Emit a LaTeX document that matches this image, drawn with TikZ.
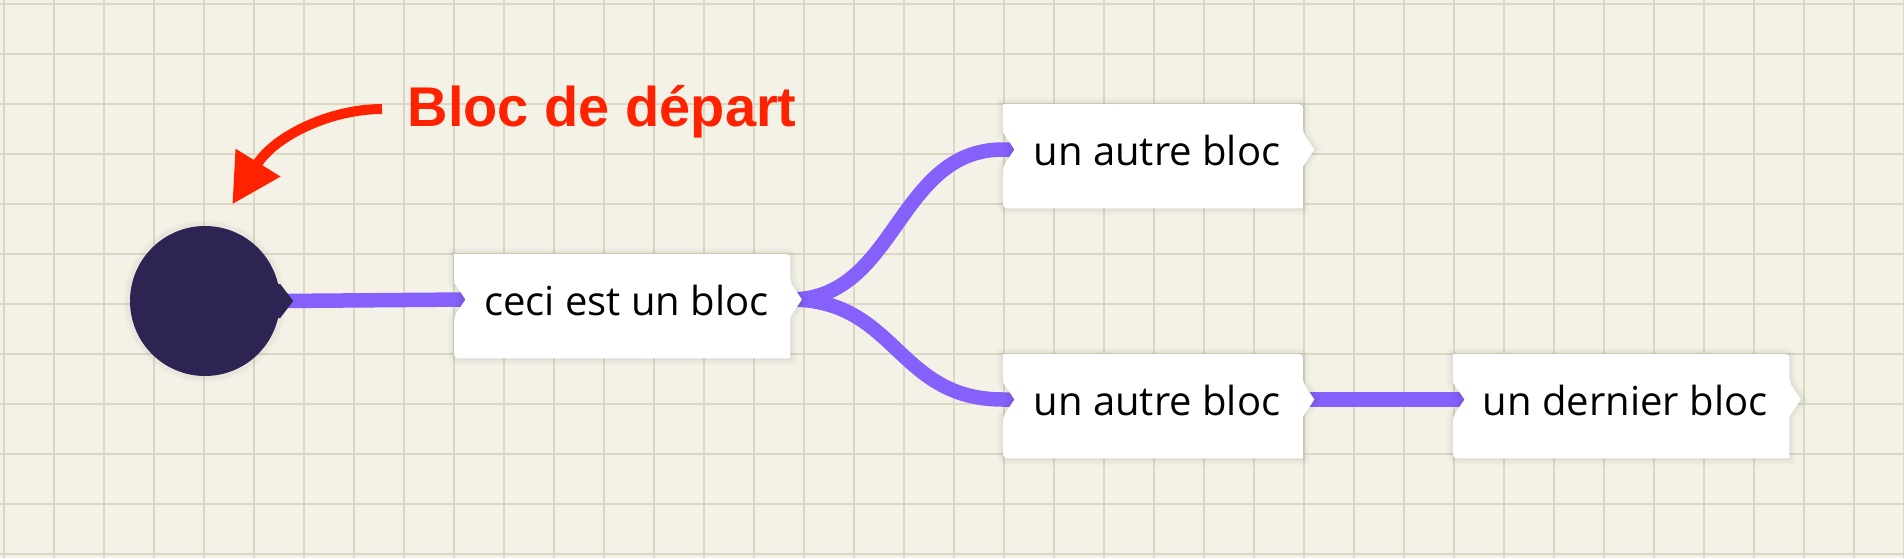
\documentclass[tikz,border=0pt]{standalone}
\usepackage{fontspec}
\newfontfamily\blockfont{Open Sans}
\newfontfamily\labelfont{Liberation Sans}
\usetikzlibrary{calc,arrows.meta}
\definecolor{bgc}{HTML}{F4F2E7}
\definecolor{gridc}{HTML}{DAD8C5}
\definecolor{purp}{HTML}{8560FA}
\definecolor{redc}{HTML}{FF2200}
\definecolor{navy}{HTML}{2E2454}
\pgfdeclarelayer{back}
\pgfdeclarelayer{lines}
\pgfdeclarelayer{blocks}
\pgfsetlayers{back,lines,blocks,main}

% block outline with left notch and right pointer
\newcommand\blkpath[2]{%
  \path[#2] (#1.north) [rounded corners=4pt] -- (#1.north east)
    -- ($(#1.north east)+(0,28.5)$) [sharp corners]
    -- ($(#1.north east)+(11.5,45.5)$)
    -- ($(#1.north east)+(0,62.5)$)
    -- (#1.south east) [rounded corners=4pt]
    -- (#1.south west)
    -- ($(#1.north west)+(0,62.5)$) [sharp corners]
    -- ($(#1.north west)+(11.5,45.5)$)
    -- ($(#1.north west)+(0,28.5)$)
    -- (#1.north west) [rounded corners=4pt] -- cycle;}
\newcommand\blkshadow[1]{%
  \blkpath{#1}{draw=black,draw opacity=0.02,line width=13pt}
  \blkpath{#1}{draw=black,draw opacity=0.025,line width=8pt}
  \blkpath{#1}{draw=black,draw opacity=0.03,line width=3.5pt}
  \blkpath{#1}{fill=white}}

\begin{document}
\begin{tikzpicture}[x=1pt,y=-1pt,
  gridline/.style={draw=gridc,line width=2pt},
  conn/.style={draw=purp,line width=14.5pt},
  blocktext/.style={inner sep=0pt,minimum height=104pt,anchor=north west,
    text height=30pt,text depth=12pt,text=black,
    font=\blockfont\fontsize{40}{48}\selectfont},
  lbltext/.style={inner sep=0pt,text=redc,
    font=\labelfont\bfseries\fontsize{56}{60}\selectfont},
  startdot/.style={circle,fill=navy,minimum size=150pt,inner sep=0pt},
  redarrow/.style={draw=redc,line width=10pt,-{Triangle[length=49pt,width=50pt]}}]
\useasboundingbox (0,0) rectangle (1904,558);

% background grid
\begin{pgfonlayer}{back}
  \fill[bgc] (0,0) rectangle (1904,558);
  \foreach \i in {0,...,38} \draw[gridline] ({3.5+50*\i},0) -- ({3.5+50*\i},558);
  \foreach \j in {0,...,11} \draw[gridline] (0,{4+50*\j}) -- (1904,{4+50*\j});
\end{pgfonlayer}

% nodes
\node[startdot] (c) at (205,301) {};
\node[blocktext,minimum width=336pt] (b1) at (454,254) {\hspace*{8pt}ceci est un bloc};
\node[blocktext,minimum width=299.5pt] (b2) at (1003,104) {\hspace*{8pt}un autre bloc};
\node[blocktext,minimum width=299.5pt] (b3) at (1003,354) {\hspace*{8pt}un autre bloc};
\node[blocktext,minimum width=336pt] (b4) at (1453,354) {\hspace*{8pt}un dernier bloc};
\node[lbltext,anchor=base west] (lbl) at (407.5,126) {Bloc de départ};

% ports
\foreach \b in {b1,b2,b3,b4}{
  \coordinate (\b in) at ($(\b.north west)+(11.5,45.5)$);
  \coordinate (\b out) at ($(\b.north east)+(0,45.5)$);
}

% block shapes
\begin{pgfonlayer}{blocks}
  \draw[black,draw opacity=0.02,line width=13pt] (c.center) circle[radius=75pt];
  \draw[black,draw opacity=0.025,line width=8pt] (c.center) circle[radius=75pt];
  \fill[navy] ($(c.east)+(-5,-17)$) -- ($(c.east)+(0,-17)$) -- ($(c.east)+(13,0)$)
     -- ($(c.east)+(0,17)$) -- ($(c.east)+(-5,17)$) -- cycle;
  \blkshadow{b1}
  \blkshadow{b2}
  \blkshadow{b3}
  \blkshadow{b4}
\end{pgfonlayer}

% connectors
\begin{pgfonlayer}{lines}
  \draw[conn] (c.east) -- (b1in);
  \draw[conn] (b1out) .. controls +(106.5,0) and +(-106.5,0) .. ($(b2in)+(-11.5,0)$) -- (b2in);
  \draw[conn] (b1out) .. controls +(106.5,0) and +(-106.5,0) .. ($(b3in)+(-11.5,0)$) -- (b3in);
  \draw[conn] (b3out) -- (b4in);
\end{pgfonlayer}

% annotation arrow
\coordinate (arrstart) at (382,109);
\coordinate (arrtip) at (232.3,204.3);
\draw[redarrow] (arrstart) .. controls +(-52,0) and +(42.1,-68.1) .. (arrtip);
\end{tikzpicture}
\end{document}
